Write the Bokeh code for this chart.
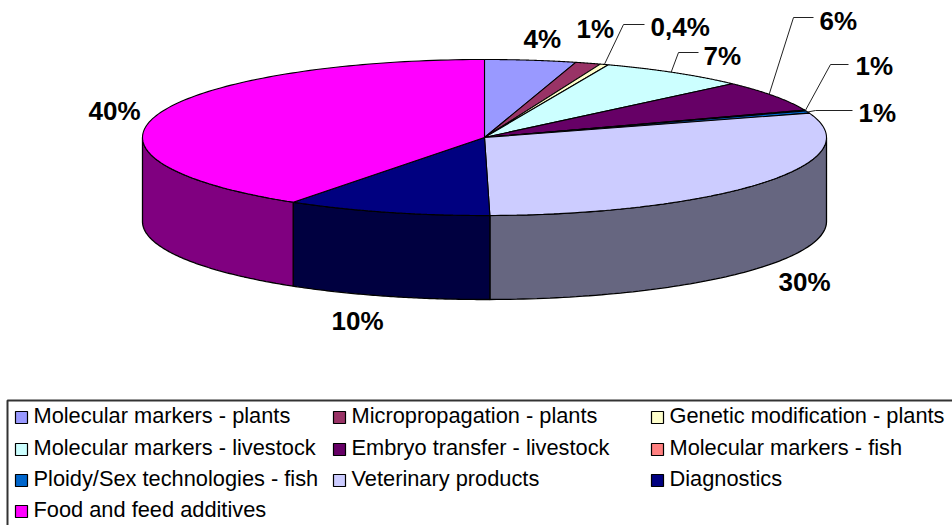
import numpy as np
from bokeh.plotting import figure
from bokeh.embed import file_html
from bokeh.resources import INLINE
from bokeh.core.properties import value

categories = ["Molecular markers - plants", "Micropropagation - plants", "Genetic modification - plants",
              "Molecular markers - livestock", "Embryo transfer - livestock", "Molecular markers - fish",
              "Ploidy/Sex technologies - fish", "Veterinary products", "Diagnostics", "Food and feed additives"]
shares = [4.3, 1.2, 0.4, 7.0, 6.4, 0.15, 0.5, 29.8, 9.7, 40.55]
colors = ["#9999FF", "#993366", "#FFFFCC", "#CCFFFF", "#660066", "#FF8080", "#0066CC", "#CCCCFF", "#000080", "#FF00FF"]
wall_colors = ["#4C4C80", "#4C1933", "#808066", "#668080", "#330033", "#804040", "#003366", "#666680", "#000040", "#800080"]
labels = ["4%", "1%", "0,4%", "7%", "6%", "1%", "1%", "30%", "10%", "40%"]

# layout (pixels)
CX, CY, RX, RY, DEPTH = 484.0, 137.0, 342.0, 78.0, 84.0
label_pos = [(523, 38), (576, 28), (650, 26), (703, 55), (819, 20), (855, 65), (858, 112), (778, 281), (331, 320), (88, 110)]
leaders = {2: (623, 24, 644), 3: (678, 52, 698), 4: (793, 17, 813), 5: (830, 64, 848), 6: (815, 110, 852)}
leader_frac = {2: 0.5, 3: 0.47, 4: 0.43, 5: 0.5, 6: 0.5}

p = figure(width=952, height=525, x_range=(0, 952), y_range=(525, 0), output_backend="svg",
           toolbar_location=None, x_axis_type=None, y_axis_type=None, min_border=0,
           outline_line_color=None, background_fill_color="white", border_fill_color="white",
           styles={"position": "absolute", "left": "0px", "top": "0px"})
p.grid.visible = False

edges = np.radians(np.concatenate([[0], np.cumsum(shares)]) / sum(shares) * 360)

def rim(t, dy=0.0):
    return CX + RX * np.sin(t), CY - RY * np.cos(t) + dy

# side walls
wx, wy, wc = [], [], []
for i in range(len(shares)):
    a, b = max(edges[i], np.pi / 2), min(edges[i + 1], 3 * np.pi / 2)
    if b <= a:
        continue
    t = np.linspace(a, b, 80)
    x1, y1 = rim(t)
    x2, y2 = rim(t[::-1], DEPTH)
    wx.append(np.concatenate([x1, x2]))
    wy.append(np.concatenate([y1, y2]))
    wc.append(wall_colors[i])
p.patches(wx, wy, fill_color=wc, line_color="black", line_width=1.3)

# top face
tx, ty = [], []
for i in range(len(shares)):
    t = np.linspace(edges[i], edges[i + 1], 120)
    x1, y1 = rim(t)
    tx.append(np.concatenate([[CX], x1]))
    ty.append(np.concatenate([[CY], y1]))
p.patches(tx, ty, fill_color=colors, line_color="black", line_width=1.1)

# leader lines
lx, ly = [], []
for i, (ex, ey, endx) in leaders.items():
    t = edges[i] + (edges[i + 1] - edges[i]) * leader_frac[i]
    x0, y0 = rim(t)
    lx.append([x0, ex, endx])
    ly.append([y0, ey, ey])
p.multi_line(lx, ly, line_color="#222222", line_width=1)

# data labels
p.text([q[0] for q in label_pos], [q[1] for q in label_pos], text=labels, text_font=value("Liberation Sans"),
       text_font_style="bold", text_font_size="26px", text_color="black", text_align="left", text_baseline="middle")

# legend
col_x = [15, 333, 651]
row_y = [415, 447, 478, 509]
p.multi_line([[7, 7, 952]], [[525, 400, 400]], line_color="#333333", line_width=2)
mx = [col_x[i % 3] + 6 for i in range(len(categories))]
my = [row_y[i // 3] + 2 for i in range(len(categories))]
p.scatter(mx, my, marker="square", size=12, fill_color=colors, line_color="black", line_width=1.2)
p.text([col_x[i % 3] + 18 for i in range(len(categories))], [row_y[i // 3] for i in range(len(categories))],
       text=categories, text_font=value("Liberation Sans"), text_font_size="21.8px", text_color="black",
       text_align="left", text_baseline="middle")

open("out.html", "w").write(file_html(p, INLINE))
